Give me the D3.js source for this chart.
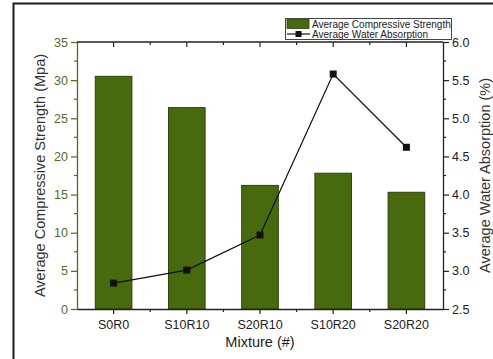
<!DOCTYPE html>
<html>
<head>
<meta charset="utf-8">
<script src="https://cdn.jsdelivr.net/npm/d3@7"></script>
<style>
  html, body { margin: 0; padding: 0; background: #fff; }
  svg { display: block; font-family: "Liberation Sans", Arial, sans-serif; }
</style>
</head>
<body>
<svg id="chart" width="493" height="359"></svg>
<script>
// Mixtures and their measured properties
const mixtures = ["S0R0", "S10R10", "S20R10", "S10R20", "S20R20"];
const compressiveStrength = [30.5, 26.4, 16.2, 17.8, 15.3];   // MPa
const waterAbsorption = [2.84, 3.01, 3.47, 5.58, 4.62];        // %
const strengthTicks = [0, 5, 10, 15, 20, 25, 30, 35];
const absorptionTicks = [2.5, 3.0, 3.5, 4.0, 4.5, 5.0, 5.5, 6.0];

const svg = d3.select("#chart");
const W = 493, H = 359;
const m = { left: 77, right: 443, top: 42, bottom: 309 };

const barFill = "#486a0f";
const barStroke = "#2f4209";
const leftColor = "#4f6b1c";
const leftText = "#556d22";
const inkColor = "#222";

// outer frame
svg.append("rect")
  .attr("x", 13.5).attr("y", 3.5)
  .attr("width", W).attr("height", H)
  .attr("fill", "none").attr("stroke", "#1a1a1a").attr("stroke-width", 2);

const x = d3.scaleBand().domain(mixtures)
  .range([m.left, m.right]).paddingInner(0.5).paddingOuter(0.25);
const yL = d3.scaleLinear().domain([0, 35]).range([m.bottom, m.top]);
const yR = d3.scaleLinear().domain([2.5, 6.0]).range([m.bottom, m.top]);

// bars
svg.append("g").selectAll("rect").data(mixtures).join("rect")
  .attr("x", d => x(d))
  .attr("y", (d, i) => yL(compressiveStrength[i]))
  .attr("width", x.bandwidth())
  .attr("height", (d, i) => m.bottom - yL(compressiveStrength[i]))
  .attr("fill", barFill).attr("stroke", barStroke).attr("stroke-width", 1);

// line with square markers
const cx = d => x(d) + x.bandwidth() / 2;
const line = d3.line().x((d, i) => cx(mixtures[i])).y(d => yR(d));
svg.append("path").datum(waterAbsorption)
  .attr("d", line).attr("fill", "none").attr("stroke", "#111").attr("stroke-width", 1.2);
svg.append("g").selectAll("rect").data(waterAbsorption).join("rect")
  .attr("x", (d, i) => cx(mixtures[i]) - 3.5)
  .attr("y", d => yR(d) - 3.5)
  .attr("width", 7).attr("height", 7).attr("fill", "#111");

// left axis
const gL = svg.append("g").attr("transform", `translate(${m.left},0)`)
  .call(d3.axisLeft(yL).tickValues(strengthTicks).tickSize(6).tickPadding(3).tickSizeOuter(0));
gL.select(".domain").attr("stroke", leftColor).attr("stroke-width", 1.3);
gL.selectAll(".tick line").attr("stroke", leftColor).attr("stroke-width", 1.2);
gL.selectAll(".tick text").attr("fill", leftText).attr("font-size", 12.5)
  .attr("font-family", "Liberation Sans, Arial, sans-serif");
// left minor ticks
svg.append("g").selectAll("line")
  .data(d3.range(2.5, 35, 5)).join("line")
  .attr("x1", m.left - 3).attr("x2", m.left)
  .attr("y1", d => yL(d)).attr("y2", d => yL(d))
  .attr("stroke", leftColor).attr("stroke-width", 1.2);

// right axis
const gR = svg.append("g").attr("transform", `translate(${m.right},0)`)
  .call(d3.axisRight(yR).tickValues(absorptionTicks).tickFormat(d3.format(".1f"))
    .tickSize(6).tickPadding(3).tickSizeOuter(0));
gR.select(".domain").attr("stroke", inkColor).attr("stroke-width", 1.3);
gR.selectAll(".tick line").attr("stroke", inkColor).attr("stroke-width", 1.2);
gR.selectAll(".tick text").attr("fill", inkColor).attr("font-size", 12.5)
  .attr("font-family", "Liberation Sans, Arial, sans-serif");
svg.append("g").selectAll("line")
  .data(d3.range(2.75, 6.0, 0.5)).join("line")
  .attr("x1", m.right).attr("x2", m.right + 3)
  .attr("y1", d => yR(d)).attr("y2", d => yR(d))
  .attr("stroke", inkColor).attr("stroke-width", 1.2);

// bottom axis
const gB = svg.append("g").attr("transform", `translate(0,${m.bottom})`)
  .call(d3.axisBottom(x).tickSize(5).tickPadding(6).tickSizeOuter(0));
gB.select(".domain").attr("stroke", inkColor).attr("stroke-width", 1.3);
gB.selectAll(".tick line").attr("stroke", inkColor).attr("stroke-width", 1.2);
gB.selectAll(".tick text").attr("fill", inkColor).attr("font-size", 12.5)
  .attr("font-family", "Liberation Sans, Arial, sans-serif");

// minor ticks between categories (bottom outward, top inward)
const between = mixtures.slice(1).map(d => x(d) - x.step() * x.paddingInner() / 2);
svg.append("g").selectAll("line").data(between).join("line")
  .attr("x1", d => d).attr("x2", d => d)
  .attr("y1", m.bottom).attr("y2", m.bottom + 3)
  .attr("stroke", inkColor).attr("stroke-width", 1.2);

// top axis line with inward ticks
svg.append("line")
  .attr("x1", m.left).attr("x2", m.right).attr("y1", m.top).attr("y2", m.top)
  .attr("stroke", inkColor).attr("stroke-width", 1.3);
svg.append("g").selectAll("line").data(mixtures).join("line")
  .attr("x1", d => cx(d)).attr("x2", d => cx(d))
  .attr("y1", m.top).attr("y2", m.top + 5)
  .attr("stroke", inkColor).attr("stroke-width", 1.2);
svg.append("g").selectAll("line").data(between).join("line")
  .attr("x1", d => d).attr("x2", d => d)
  .attr("y1", m.top).attr("y2", m.top + 3)
  .attr("stroke", inkColor).attr("stroke-width", 1.2);

// axis titles
svg.append("text")
  .attr("transform", `translate(45,${(m.top + m.bottom) / 2}) rotate(-90)`)
  .attr("text-anchor", "middle").attr("font-size", 14.5).attr("fill", "#333")
  .text("Average Compressive Strength (Mpa)");
svg.append("text")
  .attr("transform", `translate(490,${(m.top + m.bottom) / 2}) rotate(-90)`)
  .attr("text-anchor", "middle").attr("font-size", 14.5).attr("fill", "#333")
  .text("Average Water Absorption (%)");
svg.append("text")
  .attr("x", (m.left + m.right) / 2).attr("y", 347)
  .attr("text-anchor", "middle").attr("font-size", 14.5).attr("fill", "#222")
  .text("Mixture (#)");

// legend
const lg = svg.append("g").attr("transform", "translate(285,18)");
lg.append("rect").attr("x", 0.5).attr("y", 0.5).attr("width", 166).attr("height", 21)
  .attr("fill", "#fff").attr("stroke", "#444").attr("stroke-width", 1);
lg.append("rect").attr("x", 2).attr("y", 1.5).attr("width", 22).attr("height", 9)
  .attr("fill", barFill).attr("stroke", barStroke).attr("stroke-width", 0.8);
lg.append("text").attr("x", 27).attr("y", 9.5).attr("font-size", 10).attr("fill", "#222")
  .text("Average Compressive Strength");
lg.append("line").attr("x1", 2).attr("x2", 25).attr("y1", 16).attr("y2", 16)
  .attr("stroke", "#111").attr("stroke-width", 1.2);
lg.append("rect").attr("x", 10.5).attr("y", 13).attr("width", 6).attr("height", 6).attr("fill", "#111");
lg.append("text").attr("x", 27).attr("y", 20).attr("font-size", 10).attr("fill", "#222")
  .text("Average Water Absorption");
</script>
</body>
</html>
